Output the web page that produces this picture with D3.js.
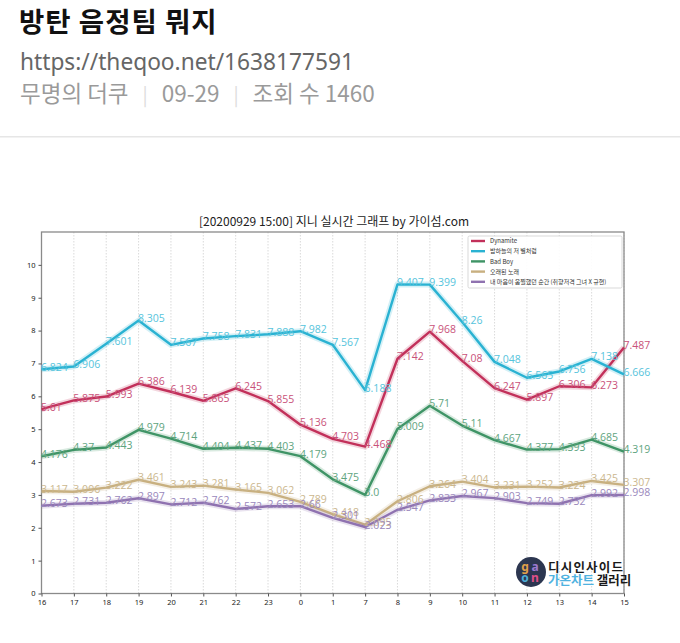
<!DOCTYPE html>
<html>
<head>
<meta charset="utf-8">
<script src="https://cdn.jsdelivr.net/npm/d3@7"></script>
<style>
  html, body { margin: 0; padding: 0; background: #fff; }
  svg { display: block; }
</style>
</head>
<body>
<svg id="chart" width="680" height="643"></svg>
<script>
// ---- data ----
const hours = ["16","17","18","19","20","21","22","23","0","1","7","8","9","10","11","12","13","14","15"];
const yTicks = [0,1,2,3,4,5,6,7,8,9,10];
const seriesNames = ["Dynamite", "밤하늘의 저 별처럼", "Bad Boy", "오래된 노래", "내 마음이 움찔했던 순간 (취향저격 그녀 X 규현)"];
const dynamite = [5.61,5.875,5.993,6.386,6.139,5.865,6.245,5.855,5.136,4.703,4.468,7.142,7.968,7.08,6.247,5.897,6.306,6.273,7.487];
const starlight = [6.824,6.906,7.601,8.305,7.567,7.758,7.831,7.888,7.982,7.567,6.188,9.407,9.399,8.26,7.048,6.565,6.756,7.138,6.666];
const badBoy = [4.176,4.37,4.443,4.979,4.714,4.404,4.437,4.403,4.179,3.475,3.0,5.009,5.71,5.11,4.667,4.377,4.393,4.685,4.319];
const oldSong = [3.117,3.096,3.222,3.461,3.243,3.281,3.165,3.062,2.789,2.418,2.095,2.806,3.264,3.404,3.231,3.252,3.224,3.425,3.307];
const flinch = [2.673,2.731,2.762,2.897,2.712,2.762,2.572,2.653,2.66,2.301,2.023,2.547,2.833,2.967,2.903,2.749,2.732,2.992,2.998];
const labelText = [
  ["5.61","5.875","5.993","6.386","6.139","5.865","6.245","5.855","5.136","4.703","4.468","7.142","7.968","7.08","6.247","5.897","6.306","6.273","7.487"],
  ["6.824","6.906","7.601","8.305","7.567","7.758","7.831","7.888","7.982","7.567","6.188","9.407","9.399","8.26","7.048","6.565","6.756","7.138","6.666"],
  ["4.176","4.37","4.443","4.979","4.714","4.404","4.437","4.403","4.179","3.475","3.0","5.009","5.71","5.11","4.667","4.377","4.393","4.685","4.319"],
  ["3.117","3.096","3.222","3.461","3.243","3.281","3.165","3.062","2.789","2.418","2.095","2.806","3.264","3.404","3.231","3.252","3.224","3.425","3.307"],
  ["2.673","2.731","2.762","2.897","2.712","2.762","2.572","2.653","2.66","2.301","2.023","2.547","2.833","2.967","2.903","2.749","2.732","2.992","2.998"]
];
const allSeries = [dynamite, starlight, badBoy, oldSong, flinch];

// ---- styles ----
const lineColors = ["#c2305a", "#2ab2d2", "#3f9466", "#c8b080", "#8f72b0"];
const labelColors = ["#c9527a", "#56c4dc", "#5ea47e", "#cbb78e", "#9a88bc"];
const font = "'Noto Sans CJK KR', 'Noto Sans', sans-serif";

const svg = d3.select("#chart");

// ---- page header ----
svg.append("text").attr("x", 19).attr("y", 32)
  .attr("font-family", font).attr("font-weight", 700).attr("font-size", 27.5)
  .attr("letter-spacing", 1).attr("fill", "#111").text("방탄 음정팀 뭐지");
svg.append("text").attr("x", 20).attr("y", 69.5)
  .attr("font-family", "'Noto Sans', sans-serif").attr("font-size", 22.7)
  .attr("fill", "#666").text("https://theqoo.net/1638177591");
const meta = svg.append("text").attr("x", 20).attr("y", 102)
  .attr("font-family", font).attr("font-size", 22.5).attr("fill", "#9a9a9a");
meta.append("tspan").text("무명의 더쿠");
meta.append("tspan").attr("dx", 14).attr("fill", "#dcdcdc").attr("font-size", 19).text("|");
meta.append("tspan").attr("dx", 14).text("09-29");
meta.append("tspan").attr("dx", 14).attr("fill", "#dcdcdc").attr("font-size", 19).text("|");
meta.append("tspan").attr("dx", 14).text("조회 수 1460");
svg.append("rect").attr("x", 0).attr("y", 136).attr("width", 680).attr("height", 1.5).attr("fill", "#e6e6e6");

// ---- chart ----
const L = 41.5, R = 624, T = 232, B = 593.5;
const x = d3.scalePoint().domain(hours).range([L, R]);
const y = d3.scaleLinear().domain([0, 11]).range([B, T]);

// vertical dotted grid
svg.append("g").selectAll("line").data(hours).join("line")
  .attr("x1", d => x(d)).attr("x2", d => x(d)).attr("y1", T).attr("y2", B)
  .attr("stroke", "#d0d0d0").attr("stroke-width", 0.8).attr("stroke-dasharray", "1.5,1.5");

// frame
svg.append("rect").attr("x", L).attr("y", T).attr("width", R - L).attr("height", B - T)
  .attr("fill", "none").attr("stroke", "#8a8a8a").attr("stroke-width", 1.3);

// axes
const xAxis = svg.append("g").attr("transform", `translate(0,${B})`)
  .call(d3.axisBottom(x).tickSize(3).tickPadding(3));
const yAxis = svg.append("g").attr("transform", `translate(${L},0)`)
  .call(d3.axisLeft(y).tickValues(yTicks).tickSize(3).tickPadding(3));
[xAxis, yAxis].forEach(g => {
  g.select(".domain").remove();
  g.selectAll(".tick line").attr("stroke", "#555");
  g.selectAll(".tick text").attr("font-family", "'Noto Sans', sans-serif")
    .attr("font-size", 7.5).attr("fill", "#222");
});

// title
svg.append("text").attr("x", 334).attr("y", 226).attr("text-anchor", "middle")
  .attr("font-family", font).attr("font-size", 12).attr("fill", "#222")
  .text("[20200929 15:00] 지니 실시간 그래프 by 가이섬.com");

// lines
const line = d3.line().x((d, i) => x(hours[i])).y(d => y(d));
allSeries.forEach((s, k) => {
  svg.append("path").datum(s).attr("d", line).attr("fill", "none")
    .attr("stroke", lineColors[k]).attr("stroke-opacity", 0.2).attr("stroke-width", 6)
    .attr("stroke-linejoin", "round");
  svg.append("path").datum(s).attr("d", line).attr("fill", "none")
    .attr("stroke", lineColors[k]).attr("stroke-width", 2.4).attr("stroke-linejoin", "round");
});

// value labels
allSeries.forEach((s, k) => {
  svg.append("g").selectAll("text").data(s).join("text")
    .attr("x", (d, i) => x(hours[i]) - 0.5)
    .attr("y", d => y(d) + 1.5)
    .attr("font-family", "'Open Sans', 'Noto Sans', sans-serif").attr("font-size", 10.5)
    .attr("fill", labelColors[k])
    .text((d, i) => labelText[k][i]);
});

// legend
const lg = svg.append("g");
lg.append("rect").attr("x", 468).attr("y", 236).attr("width", 154).attr("height", 52)
  .attr("fill", "#fff").attr("fill-opacity", 0.9).attr("stroke", "#cfcfcf").attr("stroke-width", 0.8).attr("rx", 1.5);
seriesNames.forEach((n, k) => {
  const yy = 241 + k * 10.2;
  lg.append("line").attr("x1", 471).attr("x2", 485).attr("y1", yy).attr("y2", yy)
    .attr("stroke", lineColors[k]).attr("stroke-width", 2.4);
  lg.append("text").attr("x", 490).attr("y", yy + 2.2)
    .attr("font-family", font).attr("font-size", 6).attr("fill", "#333").text(n);
});

// watermark
const wm = svg.append("g");
wm.append("circle").attr("cx", 531).attr("cy", 572).attr("r", 15).attr("fill", "#2c3650");
[["g", 525, 571, "#e0a04a"], ["a", 535, 571, "#9c7ad0"], ["o", 525, 582, "#4cb0d8"], ["n", 535, 582, "#e0508a"]].forEach(c => {
  wm.append("text").attr("x", c[1]).attr("y", c[2]).attr("text-anchor", "middle")
    .attr("font-family", "'Noto Sans', sans-serif").attr("font-weight", 700).attr("font-size", 12)
    .attr("fill", c[3]).text(c[0]);
});
wm.append("text").attr("x", 548).attr("y", 572).attr("font-family", font).attr("font-weight", 700)
  .attr("font-size", 12.5).attr("fill", "#1a1a1a").attr("letter-spacing", 1.2).text("디시인사이드");
const wm2 = wm.append("text").attr("x", 548).attr("y", 585).attr("font-family", font).attr("font-weight", 700)
  .attr("font-size", 12.5);
wm2.append("tspan").attr("fill", "#4fb2e0").text("가온차트 ");
wm2.append("tspan").attr("fill", "#1a1a1a").text("갤러리");
</script>
</body>
</html>
